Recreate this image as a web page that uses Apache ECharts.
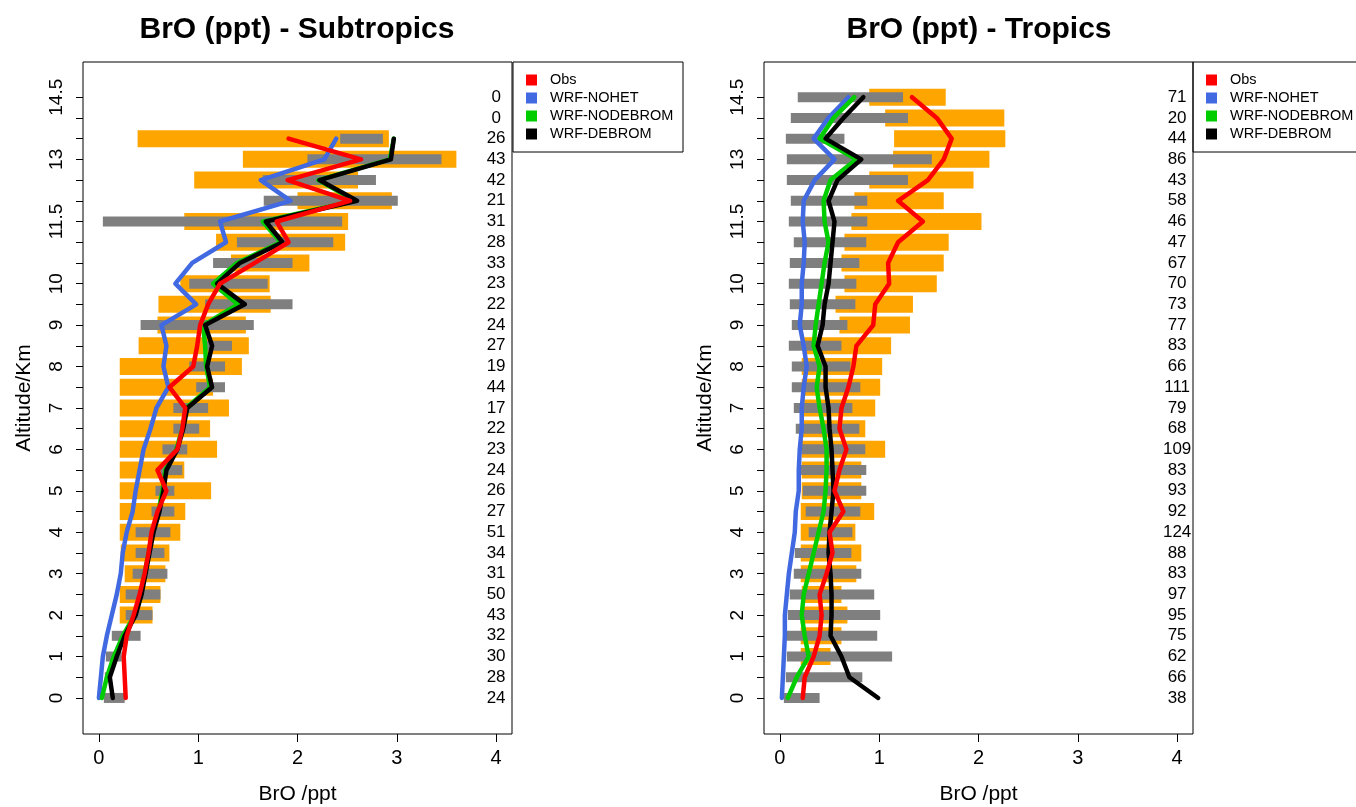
<!DOCTYPE html>
<html>
<head>
<meta charset="utf-8">
<title>BrO profiles</title>
<script src="https://cdn.jsdelivr.net/npm/echarts@6/dist/echarts.min.js"></script>
<style>
  html, body { margin: 0; padding: 0; background: #fff; }
  #chart { width: 1356px; height: 807px; }
</style>
</head>
<body>
<div id="chart"></div>
<script>
// altitude levels (km), bottom to top
const altitudes = [0, 0.5, 1, 1.5, 2, 2.5, 3, 3.5, 4, 4.5, 5, 5.5, 6, 6.5, 7, 7.5, 8, 8.5, 9, 9.5, 10, 10.5, 11, 11.5, 12, 12.5, 13, 13.5, 14, 14.5];
const yTicks = [0, 0.5, 1, 1.5, 2, 2.5, 3, 3.5, 4, 4.5, 5, 5.5, 6, 6.5, 7, 7.5, 8, 8.5, 9, 9.5, 10, 10.5, 11, 11.5, 12, 12.5, 13, 13.5, 14, 14.5];
const yLabels = [0, 1, 2, 3, 4, 5, 6, 7, 8, 9, 10, 11.5, 13, 14.5];
const xLabels = [0, 1, 2, 3, 4];

// Subtropics
const subCounts = [24, 28, 30, 32, 43, 50, 31, 34, 51, 27, 26, 24, 23, 22, 17, 44, 19, 27, 24, 22, 23, 33, 28, 31, 21, 42, 43, 26, 0, 0];
const subObsLo = [null, null, null, null, 0.21, 0.21, 0.26, 0.22, 0.21, 0.21, 0.21, 0.21, 0.21, 0.21, 0.21, 0.21, 0.21, 0.40, 0.59, 0.60, 0.82, 1.33, 1.18, 0.86, 2.00, 0.96, 1.45, 0.39, null, null];
const subObsHi = [null, null, null, null, 0.54, 0.62, 0.67, 0.71, 0.82, 0.87, 1.13, 0.86, 1.19, 1.12, 1.31, 1.15, 1.44, 1.51, 1.48, 1.73, 1.72, 2.12, 2.48, 2.51, 2.95, 2.61, 3.60, 2.92, null, null];
const subModLo = [0.05, 0.06, 0.07, 0.13, 0.27, 0.27, 0.34, 0.37, 0.37, 0.53, 0.57, 0.62, 0.64, 0.75, 0.75, 0.98, 0.91, 1.07, 0.42, 1.07, 0.91, 1.15, 1.39, 0.04, 1.66, 1.65, 2.10, 2.43, null, null];
const subModHi = [0.26, 0.12, 0.23, 0.42, 0.54, 0.62, 0.69, 0.66, 0.72, 0.76, 0.76, 0.84, 0.89, 1.01, 1.10, 1.27, 1.27, 1.34, 1.56, 1.95, 1.70, 1.95, 2.36, 2.45, 3.01, 2.79, 3.45, 2.86, null, null];
const subObs = [0.27, 0.26, 0.25, 0.28, 0.35, 0.41, 0.46, 0.50, 0.53, 0.59, 0.68, 0.59, 0.79, 0.84, 0.87, 0.71, 0.95, 0.99, 1.02, 1.10, 1.22, 1.57, 1.91, 1.79, 2.53, 1.90, 2.64, 1.91, null, null];
const subNohet = [0.00, 0.02, 0.04, 0.08, 0.13, 0.18, 0.22, 0.24, 0.28, 0.34, 0.37, 0.41, 0.45, 0.52, 0.58, 0.70, 0.65, 0.68, 0.63, 0.98, 0.77, 0.94, 1.28, 1.22, 1.93, 1.63, 2.27, 2.39, null, null];
const subNodebrom = [0.03, 0.08, 0.15, 0.24, 0.36, 0.42, 0.46, 0.50, 0.54, 0.60, 0.64, 0.67, 0.78, 0.84, 0.88, 1.12, 1.08, 1.07, 1.05, 1.40, 1.15, 1.39, 1.83, 1.65, 2.58, 2.21, 2.93, 2.97, null, null];
const subDebrom = [0.14, 0.11, 0.18, 0.26, 0.37, 0.43, 0.47, 0.51, 0.55, 0.61, 0.65, 0.68, 0.79, 0.85, 0.89, 1.14, 1.09, 1.14, 1.07, 1.47, 1.19, 1.42, 1.85, 1.68, 2.60, 2.22, 2.94, 2.97, null, null];

// Tropics
const tropCounts = [38, 66, 62, 75, 95, 97, 83, 88, 124, 92, 93, 83, 109, 68, 79, 111, 66, 83, 77, 73, 70, 67, 47, 46, 58, 43, 86, 44, 20, 71];
const tropObsLo = [null, null, 0.21, 0.21, 0.21, 0.22, 0.21, 0.21, 0.21, 0.21, 0.22, 0.22, 0.22, 0.22, 0.22, 0.22, 0.22, 0.23, 0.60, 0.56, 0.65, 0.62, 0.65, 0.72, 0.75, 0.90, 1.14, 1.15, 1.06, 0.90];
const tropObsHi = [null, null, 0.51, 0.62, 0.68, 0.62, 0.77, 0.82, 0.76, 0.95, 0.82, 0.82, 1.06, 0.86, 0.96, 1.01, 1.03, 1.12, 1.31, 1.34, 1.58, 1.65, 1.70, 2.03, 1.65, 1.95, 2.11, 2.27, 2.26, 1.67];
const tropModLo = [0.04, 0.06, 0.07, 0.07, 0.08, 0.10, 0.14, 0.15, 0.29, 0.26, 0.23, 0.21, 0.22, 0.16, 0.14, 0.12, 0.12, 0.09, 0.12, 0.10, 0.09, 0.10, 0.14, 0.09, 0.11, 0.07, 0.07, 0.06, 0.11, 0.18];
const tropModHi = [0.40, 0.83, 1.13, 0.98, 1.01, 0.95, 0.82, 0.72, 0.73, 0.81, 0.87, 0.87, 0.86, 0.80, 0.73, 0.81, 0.71, 0.62, 0.68, 0.76, 0.77, 0.80, 0.87, 0.88, 0.88, 1.29, 1.53, 0.65, 1.29, 1.24];
const tropObs = [0.23, 0.25, 0.34, 0.40, 0.42, 0.40, 0.47, 0.53, 0.50, 0.64, 0.55, 0.60, 0.67, 0.60, 0.62, 0.69, 0.74, 0.77, 0.94, 0.96, 1.10, 1.09, 1.19, 1.44, 1.19, 1.49, 1.65, 1.73, 1.58, 1.33];
const tropNohet = [0.02, 0.03, 0.04, 0.05, 0.05, 0.07, 0.09, 0.12, 0.15, 0.16, 0.19, 0.19, 0.20, 0.22, 0.22, 0.24, 0.27, 0.24, 0.20, 0.22, 0.22, 0.24, 0.25, 0.23, 0.24, 0.35, 0.55, 0.34, 0.49, 0.69];
const tropNodebrom = [0.08, 0.17, 0.29, 0.25, 0.22, 0.24, 0.29, 0.34, 0.39, 0.44, 0.46, 0.47, 0.47, 0.44, 0.40, 0.37, 0.40, 0.34, 0.36, 0.39, 0.42, 0.45, 0.49, 0.45, 0.44, 0.51, 0.77, 0.40, 0.54, 0.75];
const tropDebrom = [0.99, 0.70, 0.62, 0.51, 0.52, 0.52, 0.51, 0.49, 0.50, 0.52, 0.54, 0.53, 0.52, 0.50, 0.49, 0.46, 0.46, 0.38, 0.43, 0.45, 0.49, 0.51, 0.53, 0.55, 0.49, 0.58, 0.82, 0.46, 0.64, 0.84];

const FONT = 'Liberation Sans, Arial, Helvetica, sans-serif';
const names = ['Obs', 'WRF-NOHET', 'WRF-NODEBROM', 'WRF-DEBROM'];
const colors = { 'Obs': '#ff0000', 'WRF-NOHET': '#4169e1', 'WRF-NODEBROM': '#00cd00', 'WRF-DEBROM': '#000000' };

const rangeData = (lo, hi) => altitudes.map((a, i) => [lo[i], hi[i], a]).filter((d) => d[0] != null);
const lineData = (vals) => altitudes.map((a, i) => [vals[i], a]).filter((d) => d[0] != null);

const barSeries = (idx, lo, hi, color, thick, z) => ({
  type: 'custom',
  xAxisIndex: idx,
  yAxisIndex: idx,
  z,
  silent: true,
  encode: { x: [0, 1], y: 2 },
  data: rangeData(lo, hi),
  renderItem: (params, api) => {
    const p0 = api.coord([api.value(0), api.value(2)]);
    const p1 = api.coord([api.value(1), api.value(2)]);
    return { type: 'rect', shape: { x: p0[0], y: p0[1] - thick / 2, width: p1[0] - p0[0], height: thick }, style: { fill: color } };
  },
});

const profileSeries = (idx, name, vals, z) => ({
  type: 'line',
  name,
  xAxisIndex: idx,
  yAxisIndex: idx,
  z,
  symbol: 'none',
  animation: false,
  color: colors[name],
  lineStyle: { color: colors[name], width: 4.5, cap: 'round', join: 'round' },
  data: lineData(vals),
});

const countSeries = (idx, counts) => ({
  type: 'custom',
  xAxisIndex: idx,
  yAxisIndex: idx,
  z: 10,
  silent: true,
  encode: { x: 0, y: 1 },
  data: altitudes.map((a, i) => [4, a, counts[i]]),
  renderItem: (params, api) => {
    const p = api.coord([api.value(0), api.value(1)]);
    return { type: 'text', style: { x: p[0], y: p[1], text: String(api.value(2)), align: 'center', verticalAlign: 'middle', fontSize: 17, fontFamily: FONT, fill: '#000' } };
  },
});

const panelSeries = (idx, d) => [
  barSeries(idx, d.obsLo, d.obsHi, '#ffa500', 17, 1),
  barSeries(idx, d.modLo, d.modHi, '#7f7f7f', 10, 2),
  profileSeries(idx, 'WRF-NOHET', d.nohet, 3),
  profileSeries(idx, 'WRF-NODEBROM', d.nodebrom, 4),
  profileSeries(idx, 'WRF-DEBROM', d.debrom, 5),
  profileSeries(idx, 'Obs', d.obs, 6),
  countSeries(idx, d.counts),
];

const xAxisOf = (idx) => ({
  type: 'value',
  gridIndex: idx,
  min: -0.16,
  max: 4.16,
  name: 'BrO /ppt',
  nameLocation: 'middle',
  nameGap: 50,
  nameTextStyle: { fontSize: 21, fontFamily: FONT, color: '#000' },
  axisLine: { show: false, onZero: false },
  axisTick: { show: true, length: 8, customValues: xLabels, lineStyle: { color: '#000' } },
  axisLabel: { customValues: xLabels, fontSize: 20, fontFamily: FONT, color: '#000', margin: 14 },
  splitLine: { show: false },
});

const yAxisOf = (idx) => ({
  type: 'value',
  gridIndex: idx,
  min: -0.87,
  max: 15.35,
  name: 'Altitude/Km',
  nameLocation: 'middle',
  nameGap: 48,
  nameTextStyle: { fontSize: 21, fontFamily: FONT, color: '#000' },
  axisLine: { show: false, onZero: false },
  axisTick: { show: true, length: 7, customValues: yTicks, lineStyle: { color: '#000' } },
  axisLabel: { customValues: yLabels, rotate: 90, fontSize: 19, fontFamily: FONT, color: '#000', margin: 17 },
  splitLine: { show: false },
});

const legendOf = (left) => ({
  data: names,
  orient: 'vertical',
  left,
  top: 62,
  padding: [9, 4, 9, 13],
  itemWidth: 11,
  itemHeight: 11,
  itemGap: 0,
  icon: 'rect',
  selectedMode: false,
  textStyle: { fontSize: 14.5, fontFamily: FONT, color: '#000', lineHeight: 18, padding: [0, 0, 0, 8] },
});

const gridOf = (left) => ({
  left,
  top: 62,
  width: 429,
  height: 672,
  outerBoundsMode: 'none',
  show: true,
  borderColor: '#000',
  borderWidth: 1,
  backgroundColor: 'transparent',
});

const chart = echarts.init(document.getElementById('chart'), null, { renderer: 'canvas' });
chart.setOption({
  animation: false,
  backgroundColor: '#fff',
  title: [
    { text: 'BrO (ppt) - Subtropics', left: 292, top: 10, textAlign: 'center', textStyle: { fontSize: 30, fontWeight: 'bold', fontFamily: FONT, color: '#000' } },
    { text: 'BrO (ppt) - Tropics', left: 974, top: 10, textAlign: 'center', textStyle: { fontSize: 30, fontWeight: 'bold', fontFamily: FONT, color: '#000' } },
  ],
  grid: [gridOf(83), gridOf(764)],
  xAxis: [xAxisOf(0), xAxisOf(1)],
  yAxis: [yAxisOf(0), yAxisOf(1)],
  legend: [legendOf(513), legendOf(1193)],
  graphic: [
    { type: 'rect', shape: { x: 513, y: 62, width: 170, height: 90 }, style: { fill: 'none', stroke: '#000', lineWidth: 1 }, z: 100 },
    { type: 'rect', shape: { x: 1193, y: 62, width: 170, height: 90 }, style: { fill: 'none', stroke: '#000', lineWidth: 1 }, z: 100 },
  ],
  series: [
    ...panelSeries(0, { obsLo: subObsLo, obsHi: subObsHi, modLo: subModLo, modHi: subModHi, obs: subObs, nohet: subNohet, nodebrom: subNodebrom, debrom: subDebrom, counts: subCounts }),
    ...panelSeries(1, { obsLo: tropObsLo, obsHi: tropObsHi, modLo: tropModLo, modHi: tropModHi, obs: tropObs, nohet: tropNohet, nodebrom: tropNodebrom, debrom: tropDebrom, counts: tropCounts }),
  ],
});
</script>
</body>
</html>
